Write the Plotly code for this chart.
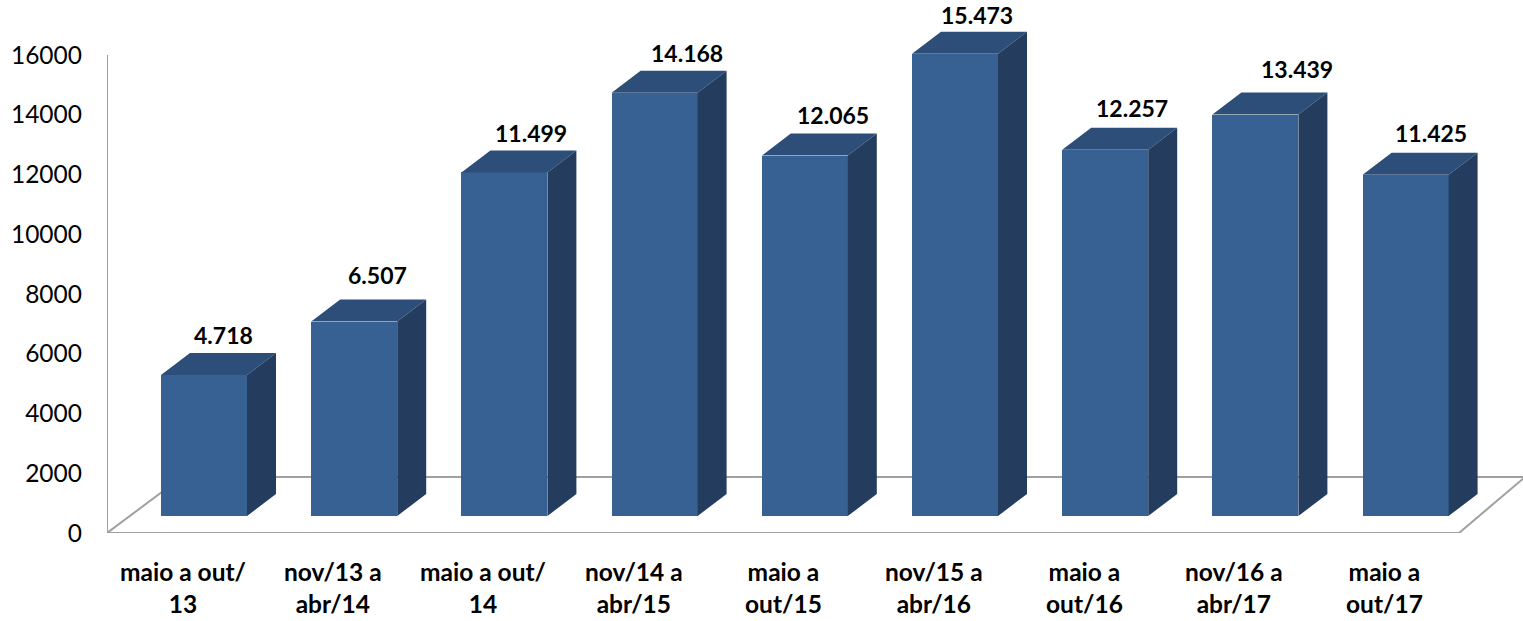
import plotly.graph_objects as go

# Data
categories = [
    "maio a out/<br>13", "nov/13 a<br>abr/14", "maio a out/<br>14",
    "nov/14 a<br>abr/15", "maio a<br>out/15", "nov/15 a<br>abr/16",
    "maio a<br>out/16", "nov/16 a<br>abr/17", "maio a<br>out/17",
]
values = [4718, 6507, 11499, 14168, 12065, 15473, 12257, 13439, 11425]
y_ticks = [0, 2000, 4000, 6000, 8000, 10000, 12000, 14000, 16000]

# Per-label nudges for the value labels (pixels)
label_dx = [19, 23, 27, 32, 28, 22, 27, 42, 25]
label_gap = [5, 12, 4, 5, 6, 4, 7, 11, 7]

# Page geometry (pixels)
W, H = 1523, 621
LEFT, TOP, BOTTOM = 107, 5, 533
PX_PER_CAT = 150.2
FIRST_CENTER = 204
PX_PER_VAL = 0.029875

def xu(px):
    return (px - FIRST_CENTER) / PX_PER_CAT

def yu(px_up):
    return px_up / PX_PER_VAL

x_range = [xu(LEFT), xu(W)]
y_range = [0, yu(BOTTOM - TOP)]

bar_w = 86 / PX_PER_CAT
base = yu(17)          # bars stand a little behind the front floor edge
dx = 29 / PX_PER_CAT   # depth offset, right
dy = yu(22)            # depth offset, up

FRONT = "rgb(56,97,147)"
TOP_C = "rgb(44,78,121)"
SIDE = "rgb(36,61,94)"
FLOOR = "rgb(160,160,160)"
FONT = "Lato"

xs = list(range(len(values)))

fig = go.Figure()

# front faces
fig.add_trace(go.Bar(
    x=xs, y=values, base=[base] * len(values), width=bar_w,
    marker=dict(color=FRONT, line=dict(width=0)),
    hoverinfo="skip", showlegend=False,
))

# top and side faces as closed polygons
tx, ty, sx, sy = [], [], [], []
for x, v in zip(xs, values):
    l, r = x - bar_w / 2, x + bar_w / 2
    t = base + v
    tx += [l, l + dx, r + dx, r, l, None]
    ty += [t, t + dy, t + dy, t, t, None]
    sx += [r, r + dx, r + dx, r, r, None]
    sy += [base, base + dy, t + dy, t, base, None]

fig.add_trace(go.Scatter(x=tx, y=ty, mode="lines", fill="toself",
                         fillcolor=TOP_C, line=dict(width=0, color=TOP_C),
                         hoverinfo="skip", showlegend=False))
fig.add_trace(go.Scatter(x=sx, y=sy, mode="lines", fill="toself",
                         fillcolor=SIDE, line=dict(width=0, color=SIDE),
                         hoverinfo="skip", showlegend=False))

# floor outline and vertical axis line
back_y = yu(56)
fl, fr = xu(LEFT), xu(1459)
bl, br = xu(182), xu(1525)
floor_line = dict(color=FLOOR, width=2)
for x0, y0, x1, y1 in [
    (fl, 0, fr, 0),
    (fl, 0, bl, back_y),
    (bl, back_y, br, back_y),
    (fr, 0, br, back_y),
    (fl, 0, fl, 16000),
]:
    fig.add_shape(type="line", x0=x0, y0=y0, x1=x1, y1=y1,
                  xref="x", yref="y", line=floor_line, layer="below")

# value labels
for x, v, ddx, gap in zip(xs, values, label_dx, label_gap):
    fig.add_annotation(
        x=x, y=base + v + dy, xref="x", yref="y",
        text="<b>" + f"{v:,}".replace(",", ".") + "</b>",
        showarrow=False, xanchor="center", yanchor="bottom",
        xshift=ddx, yshift=gap - 3,
        font=dict(family=FONT, size=23, color="black"),
    )

# category labels, kept inside the bottom edge of the page
for x, c in zip(xs, categories):
    fig.add_annotation(
        x=x, y=0, xref="x", yref="paper",
        text="<b>" + c + "</b>",
        showarrow=False, xanchor="center", yanchor="bottom",
        xshift=-21, yshift=-(H - BOTTOM) + 1, align="center",
        font=dict(family=FONT, size=24.5, color="black"),
    )

fig.update_layout(
    width=W, height=H,
    margin=dict(l=LEFT, r=0, t=TOP, b=H - BOTTOM),
    paper_bgcolor="white", plot_bgcolor="white",
    bargap=0,
    xaxis=dict(range=x_range, visible=False, fixedrange=True),
    yaxis=dict(range=y_range, tickvals=y_ticks,
               ticktext=[str(t) for t in y_ticks],
               showgrid=False, zeroline=False, showline=False,
               ticks="", ticklabelstandoff=24,
               tickfont=dict(family=FONT, size=24.5, color="black"),
               fixedrange=True),
    showlegend=False,
)

fig.write_html("out.html")
